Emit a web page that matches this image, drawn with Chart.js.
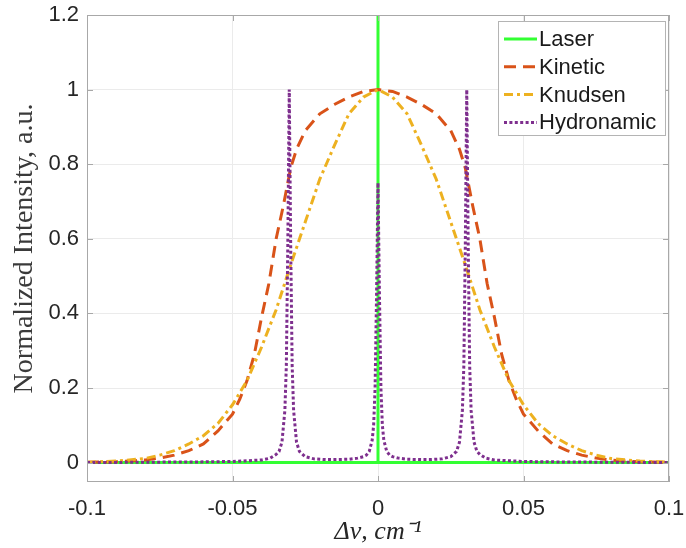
<!DOCTYPE html>
<html>
<head>
<meta charset="utf-8">
<script src="https://cdn.jsdelivr.net/npm/chart.js@4.4.0/dist/chart.umd.min.js"></script>
<style>
  body { margin: 0; background: #fff; }
</style>
</head>
<body>
<canvas id="lineChart" width="686" height="548"></canvas>
<script>
//-------------
//- DATA -
//-------------
var seriesNames = ['Laser', 'Kinetic', 'Knudsen', 'Hydronamic'];

var xTicks = [-0.1, -0.05, 0, 0.05, 0.1];
var yTicks = [0, 0.2, 0.4, 0.6, 0.8, 1, 1.2];

var laserX = [-0.1, 0, 0, 0, 0.1];
var laserY = [0, 0, 1.3, 0, 0];

var kineticX = [-0.1, -0.09, -0.08, -0.075, -0.07, -0.065, -0.06, -0.055, -0.05, -0.0475, -0.045, -0.0425, -0.04, -0.0375, -0.035, -0.0325, -0.03, -0.028, -0.025, -0.02, -0.015, -0.01, -0.005, 0,
                0.005, 0.01, 0.015, 0.02, 0.025, 0.028, 0.03, 0.0325, 0.035, 0.0375, 0.04, 0.0425, 0.045, 0.0475, 0.05, 0.055, 0.06, 0.065, 0.07, 0.075, 0.08, 0.09, 0.1];
var kineticY = [0.001, 0.002, 0.007, 0.012, 0.02, 0.032, 0.05, 0.085, 0.13, 0.17, 0.22, 0.29, 0.39, 0.48, 0.6, 0.69, 0.79, 0.84, 0.89, 0.935, 0.96, 0.98, 0.995, 1,
                0.995, 0.98, 0.96, 0.935, 0.89, 0.84, 0.79, 0.69, 0.6, 0.48, 0.39, 0.29, 0.22, 0.17, 0.13, 0.085, 0.05, 0.032, 0.02, 0.012, 0.007, 0.002, 0.001];

var knudsenX = [-0.1, -0.09, -0.08, -0.075, -0.07, -0.065, -0.06, -0.055, -0.05, -0.045, -0.04, -0.035, -0.03, -0.025, -0.02, -0.015, -0.01, -0.005, 0,
                0.005, 0.01, 0.015, 0.02, 0.025, 0.03, 0.035, 0.04, 0.045, 0.05, 0.055, 0.06, 0.065, 0.07, 0.075, 0.08, 0.09, 0.1];
var knudsenY = [0.001, 0.004, 0.011, 0.02, 0.032, 0.05, 0.072, 0.105, 0.155, 0.22, 0.31, 0.41, 0.53, 0.645, 0.76, 0.85, 0.935, 0.98, 1,
                0.98, 0.935, 0.85, 0.76, 0.645, 0.53, 0.41, 0.31, 0.22, 0.155, 0.105, 0.072, 0.05, 0.032, 0.02, 0.011, 0.004, 0.001];

var hydroX = [-0.1, -0.08, -0.06, -0.05, -0.045, -0.04, -0.037, -0.035, -0.034, -0.033, -0.032, -0.0315, -0.031, -0.0305, -0.03, -0.0295, -0.029, -0.028, -0.027, -0.025, -0.022, -0.018, -0.015, -0.01, -0.007, -0.005, -0.004, -0.003, -0.002, -0.0015, -0.001, -0.0005, 0,
              0.0005, 0.001, 0.0015, 0.002, 0.003, 0.004, 0.005, 0.007, 0.01, 0.015, 0.018, 0.022, 0.025, 0.027, 0.028, 0.029, 0.0295, 0.03, 0.0305, 0.031, 0.0315, 0.032, 0.033, 0.034, 0.035, 0.037, 0.04, 0.045, 0.05, 0.06, 0.08, 0.1];
var hydroY = [0, 0.001, 0.002, 0.003, 0.005, 0.007, 0.012, 0.022, 0.03, 0.055, 0.14, 0.26, 0.58, 1, 0.58, 0.26, 0.14, 0.055, 0.03, 0.016, 0.01, 0.008, 0.008, 0.009, 0.012, 0.016, 0.02, 0.03, 0.06, 0.1, 0.2, 0.45, 0.75,
              0.45, 0.2, 0.1, 0.06, 0.03, 0.02, 0.016, 0.012, 0.009, 0.008, 0.008, 0.01, 0.016, 0.03, 0.055, 0.14, 0.26, 0.58, 1, 0.58, 0.26, 0.14, 0.055, 0.03, 0.022, 0.012, 0.007, 0.005, 0.003, 0.002, 0.001, 0];

function pts(xs, ys) {
  return xs.map(function (x, i) { return { x: x, y: ys[i] }; });
}

var tickFont = { family: 'Liberation Sans, Arial, Helvetica, sans-serif', size: 22 };

// frame with inward ticks + legend box in the top right corner
var boxPlugin = {
  id: 'box',
  afterDraw: function (chart) {
    var ctx = chart.ctx, a = chart.chartArea;
    var xs = chart.scales.x, ys = chart.scales.y;
    ctx.save();
    ctx.strokeStyle = '#a8a8a8';
    ctx.lineWidth = 1;
    ctx.strokeRect(a.left + 0.5, a.top + 0.5, a.right - a.left - 1, a.bottom - a.top - 1);
    ctx.beginPath();
    xTicks.forEach(function (v) {
      var px = Math.round(xs.getPixelForValue(v)) + 0.5;
      ctx.moveTo(px, a.bottom); ctx.lineTo(px, a.bottom - 6);
      ctx.moveTo(px, a.top); ctx.lineTo(px, a.top + 6);
    });
    yTicks.forEach(function (v) {
      var py = Math.round(ys.getPixelForValue(v)) + 0.5;
      ctx.moveTo(a.left, py); ctx.lineTo(a.left + 6, py);
      ctx.moveTo(a.right, py); ctx.lineTo(a.right - 6, py);
    });
    ctx.stroke();

    // legend
    var lx = 498.5, ly = 21.5, lw = 167, lh = 114;
    ctx.fillStyle = '#fff';
    ctx.fillRect(lx, ly, lw, lh);
    ctx.strokeStyle = '#b4b4b4';
    ctx.strokeRect(lx, ly, lw, lh);
    ctx.font = '22px Liberation Sans, Arial, sans-serif';
    ctx.textBaseline = 'middle';
    ctx.textAlign = 'left';
    chart.data.datasets.forEach(function (ds, i) {
      var y = 39 + i * 27.8;
      ctx.save();
      ctx.strokeStyle = ds.borderColor;
      ctx.lineWidth = ds.borderWidth;
      ctx.lineCap = ds.borderCapStyle || 'butt';
      ctx.setLineDash(ds.borderDash || []);
      ctx.beginPath();
      ctx.moveTo(504, y);
      ctx.lineTo(537, y);
      ctx.stroke();
      ctx.restore();
      ctx.fillStyle = '#1a1a1a';
      ctx.fillText(ds.label, 539, y + 1);
    });
    ctx.restore();
  }
};

var ctx = document.getElementById('lineChart').getContext('2d');
var lineChart = new Chart(ctx, {
  type: 'line',
  data: {
    datasets: [
      { label: seriesNames[0], data: pts(laserX, laserY), borderColor: '#33ff33', borderWidth: 3, order: 3 },
      { label: seriesNames[1], data: pts(kineticX, kineticY), borderColor: '#D95319', borderWidth: 3, borderDash: [12, 7], order: 2 },
      { label: seriesNames[2], data: pts(knudsenX, knudsenY), borderColor: '#EDB120', borderWidth: 3, borderDash: [9, 4, 3, 4], order: 1 },
      { label: seriesNames[3], data: pts(hydroX, hydroY), borderColor: '#7E2F8E', borderWidth: 3, borderDash: [3, 2.4], order: 0 }
    ]
  },
  options: {
    responsive: false,
    animation: false,
    devicePixelRatio: 1,
    layout: { padding: { top: 15, right: 17, left: 0, bottom: 0 } },
    elements: {
      point: { radius: 0 },
      line: { tension: 0, fill: false }
    },
    datasets: { line: { clip: 0 } },
    plugins: {
      legend: { display: false },
      tooltip: { enabled: false }
    },
    scales: {
      x: {
        type: 'linear',
        min: -0.1,
        max: 0.1,
        afterBuildTicks: function (scale) {
          scale.ticks = xTicks.map(function (v) { return { value: v }; });
        },
        afterFit: function (scale) {
          scale.height = 66;
          scale.paddingLeft = 0;
          scale.paddingRight = 0;
        },
        grid: { color: '#ebebeb', drawTicks: false },
        border: { display: false },
        ticks: {
          padding: 14,
          color: '#262626',
          font: tickFont,
          maxRotation: 0,
          callback: function (v) { return String(v); }
        },
        title: {
          display: true,
          text: 'Δν, cm⁻¹',
          color: '#262626',
          font: { family: 'Liberation Serif, Times New Roman, serif', size: 26, style: 'italic' },
          padding: { top: 0, bottom: 0 }
        }
      },
      y: {
        type: 'linear',
        min: -0.052,
        max: 1.2,
        afterBuildTicks: function (scale) {
          scale.ticks = yTicks.map(function (v) { return { value: v }; });
        },
        afterFit: function (scale) {
          scale.width = 87;
          scale.paddingTop = 0;
          scale.paddingBottom = 0;
        },
        grid: { color: '#ebebeb', drawTicks: false },
        border: { display: false },
        ticks: {
          padding: 8,
          color: '#262626',
          font: tickFont,
          callback: function (v) { return String(v); }
        },
        title: {
          display: true,
          text: 'Normalized Intensity, a.u.',
          color: '#3a3a3a',
          font: { family: 'Liberation Serif, Times New Roman, serif', size: 28 },
          padding: { top: 8, bottom: 8 }
        }
      }
    }
  },
  plugins: [boxPlugin]
});
</script>
</body>
</html>
